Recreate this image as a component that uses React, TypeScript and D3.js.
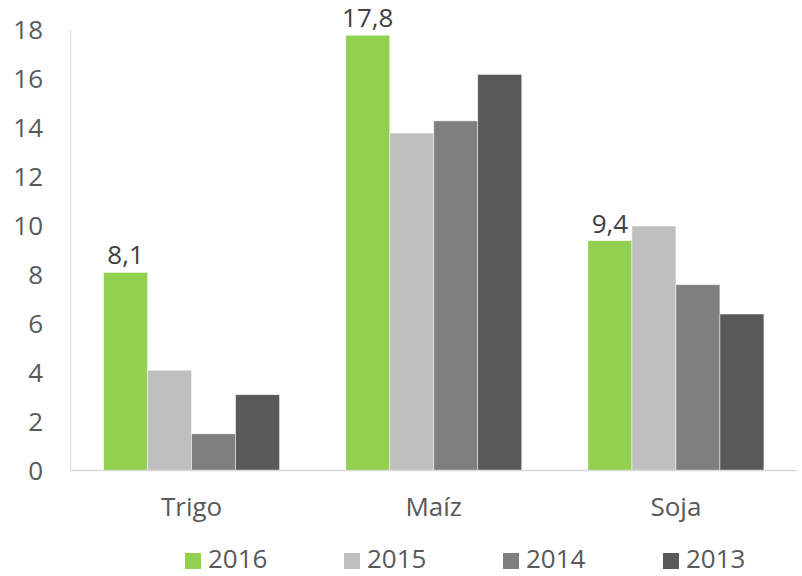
import React from "react";
import * as d3 from "d3";

const categories = ["Trigo", "Maíz", "Soja"];
const seriesNames = ["2016", "2015", "2014", "2013"];
const values2016 = [8.1, 17.8, 9.4];
const values2015 = [4.1, 13.8, 10.0];
const values2014 = [1.5, 14.3, 7.6];
const values2013 = [3.1, 16.2, 6.4];
const yTicks = [0, 2, 4, 6, 8, 10, 12, 14, 16, 18];
const colors = ["#92D050", "#BFBFBF", "#7F7F7F", "#595959"];
const labeledSeries = [0];

const W = 802;
const H = 576;
const FONT = "'Open Sans', Calibri, sans-serif";

export default function App() {
  const series = [values2016, values2015, values2014, values2013];
  const x0 = d3.scaleBand<string>().domain(categories).range([70.5, 797]).paddingInner(0).paddingOuter(0);
  const inner = 176 / 242.2;
  const x1 = d3
    .scaleBand<string>()
    .domain(seriesNames)
    .range([(x0.bandwidth() * (1 - inner)) / 2, (x0.bandwidth() * (1 + inner)) / 2])
    .padding(0);
  const y = d3.scaleLinear().domain([0, 18]).range([470.5, 30.4]);
  const fmt = (v: number) => v.toFixed(1).replace(".", ",");

  const legendX = [185, 344, 503, 663];

  return (
    <svg width={W} height={H} style={{ position: "absolute", left: 0, top: 0 }} fontFamily={FONT}>
      <rect width={W} height={H} fill="#ffffff" />
      {yTicks.map((t) => (
        <text key={t} x={43} y={y(t) + 9} textAnchor="end" fontSize={26} fill="#595959">
          {t}
        </text>
      ))}
      {categories.map((c, ci) => (
        <g key={c} transform={`translate(${x0(c)},0)`}>
          {series.map((s, si) => (
            <rect
              key={si}
              x={x1(seriesNames[si])}
              y={y(s[ci])}
              width={x1.bandwidth()}
              height={y(0) - y(s[ci])}
              fill={colors[si]}
              stroke="#ffffff"
              strokeOpacity={0.6}
              strokeWidth={0.8}
            />
          ))}
          {labeledSeries.map((si) => (
            <text
              key={"l" + si}
              x={(x1(seriesNames[si]) as number) + x1.bandwidth() / 2}
              y={y(series[si][ci]) - 8}
              textAnchor="middle"
              fontSize={26}
              fill="#404040"
            >
              {fmt(series[si][ci])}
            </text>
          ))}
        </g>
      ))}
      <line x1={70.5} x2={70.5} y1={30} y2={470.5} stroke="#D9D9D9" strokeWidth={1} />
      <line x1={70.5} x2={797} y1={470.5} y2={470.5} stroke="#D9D9D9" strokeWidth={1.5} />
      {categories.map((c) => (
        <text
          key={c}
          x={(x0(c) as number) + x0.bandwidth() / 2}
          y={516}
          textAnchor="middle"
          fontSize={26}
          fill="#595959"
        >
          {c}
        </text>
      ))}
      {seriesNames.map((n, i) => (
        <g key={n}>
          <rect x={legendX[i]} y={553} width={16} height={16} fill={colors[i]} />
          <text x={legendX[i] + 23} y={568} fontSize={26} fill="#595959">
            {n}
          </text>
        </g>
      ))}
    </svg>
  );
}
